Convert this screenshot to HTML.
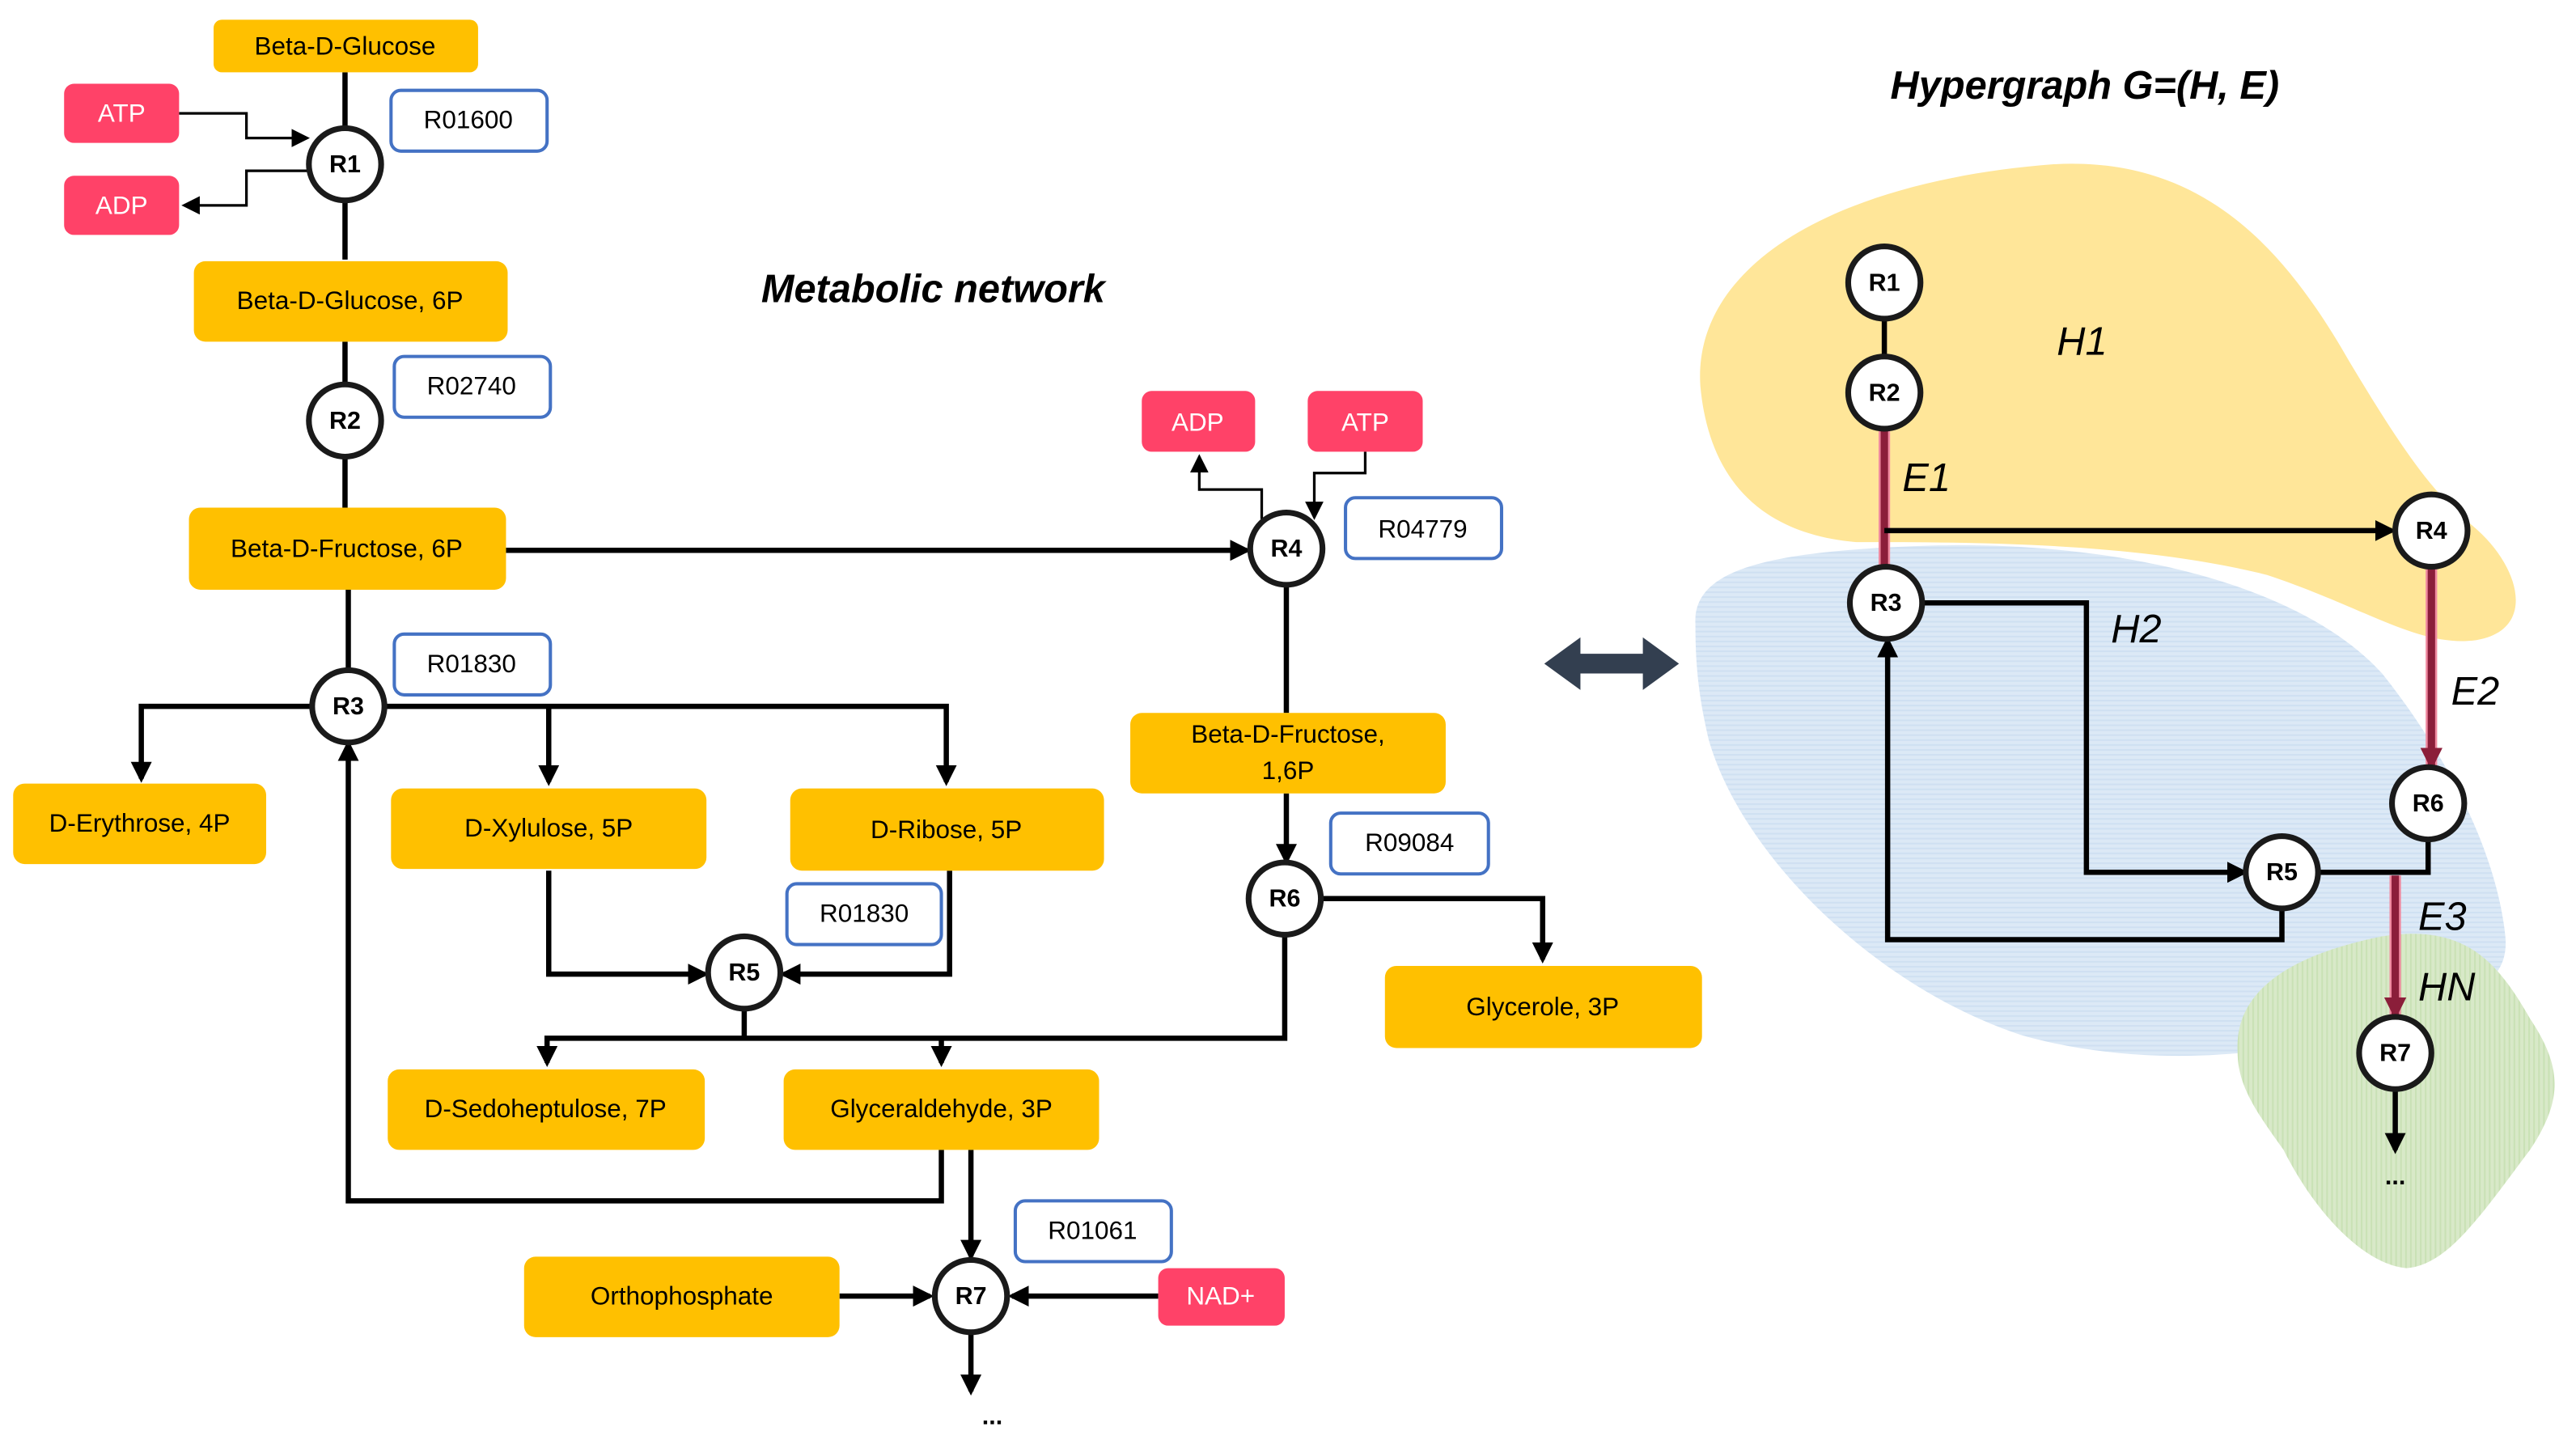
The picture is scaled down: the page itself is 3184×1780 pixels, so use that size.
<!DOCTYPE html>
<html><head><meta charset="utf-8"><style>
html,body{margin:0;padding:0;background:#fff;}
svg{display:block}
text{font-family:"Liberation Sans",sans-serif;}
.o{fill:#FFC000}
.p{fill:#FF4268}
.b{fill:#fff;stroke:#4472C4;stroke-width:2}
.t{font-size:15.5px;fill:#000;text-anchor:middle;dominant-baseline:central}
.w{font-size:15.5px;fill:#fff;text-anchor:middle;dominant-baseline:central}
.l{stroke:#000;stroke-width:3.2;fill:none}
.s{stroke:#000;stroke-width:1.6;fill:none}
.c{fill:#fff;stroke:#1a1a1a;stroke-width:3.5}
.n{font-size:15px;font-weight:bold;text-anchor:middle;dominant-baseline:central}
.i{font-size:24px;font-style:italic;}
.e{stroke:#8B1E3A;stroke-width:4.5;fill:none}
.ep{stroke:#F08AA0;stroke-width:7;fill:none}
</style></head><body>
<svg width="3184" height="1780" viewBox="0 0 1568 876.6" xmlns="http://www.w3.org/2000/svg">
<defs>
<marker id="a" markerWidth="4" markerHeight="4" refX="3.2" refY="2" orient="auto" markerUnits="strokeWidth"><path d="M0,0L4,2L0,4z" fill="#000"/></marker>
<marker id="as" markerWidth="7" markerHeight="7" refX="6" refY="3.5" orient="auto" markerUnits="strokeWidth"><path d="M0,0L7,3.5L0,7z" fill="#000"/></marker>
<marker id="ar" markerWidth="3" markerHeight="3" refX="2.4" refY="1.5" orient="auto" markerUnits="strokeWidth"><path d="M0,0L3,1.5L0,3z" fill="#8B1E3A"/></marker>
<pattern id="hb" width="4" height="3" patternUnits="userSpaceOnUse"><rect width="4" height="3" fill="#DCE9F6"/><rect width="4" height="1" fill="#CFE0F2"/></pattern>
<pattern id="hg" width="3" height="4" patternUnits="userSpaceOnUse"><rect width="3" height="4" fill="#D8E9C8"/><rect width="1" height="4" fill="#C9E1B5"/></pattern>
</defs>

<!-- Right blobs -->
<path d="M1035,235 C1030,160 1120,110 1250,100 C1340,95 1390,150 1430,220 C1460,270 1480,300 1505,320 C1535,345 1545,385 1505,390 C1470,393 1440,370 1380,350 C1300,330 1200,330 1130,330 C1070,325 1040,290 1035,235Z" fill="#FFE699"/>
<path d="M1032,380 C1030,345 1080,335 1180,332 C1290,330 1400,355 1450,410 C1490,460 1520,520 1525,570 C1528,600 1500,610 1450,625 C1380,645 1300,650 1230,630 C1140,600 1060,520 1040,450 C1033,420 1032,400 1032,380Z" fill="url(#hb)"/>
<path d="M1362,640 C1360,600 1400,580 1450,570 C1500,562 1520,585 1540,620 C1560,650 1560,670 1540,700 C1510,740 1490,770 1465,772 C1440,770 1410,740 1390,700 C1372,675 1362,660 1362,640Z" fill="url(#hg)"/>

<!-- Right edges -->
<line x1="1147" y1="194" x2="1147" y2="217" class="l"/>
<line x1="1147" y1="261" x2="1147" y2="345" class="ep"/>
<line x1="1147" y1="261" x2="1147" y2="345" class="e"/>
<line x1="1147" y1="323" x2="1456" y2="323" class="l" marker-end="url(#a)"/>
<polyline points="1170,367 1270,367 1270,531 1366,531" class="l" marker-end="url(#a)"/>
<polyline points="1389,553 1389,572 1149,572 1149,390" class="l" marker-end="url(#a)"/>
<line x1="1480" y1="345" x2="1480" y2="466" class="ep"/>
<line x1="1480" y1="345" x2="1480" y2="466" class="e" marker-end="url(#ar)"/>
<polyline points="1411,531 1478,531 1478,511" class="l"/>
<line x1="1458" y1="533" x2="1458" y2="618" class="ep"/>
<line x1="1458" y1="533" x2="1458" y2="618" class="e" marker-end="url(#ar)"/>
<line x1="1458" y1="663" x2="1458" y2="700" class="l" marker-end="url(#a)"/>
<text x="1458" y="716" class="n">...</text>

<g>
<circle cx="1147" cy="172" r="22" class="c"/><text x="1147" y="172" class="n">R1</text>
<circle cx="1147" cy="239" r="22" class="c"/><text x="1147" y="239" class="n">R2</text>
<circle cx="1148" cy="367" r="22" class="c"/><text x="1148" y="367" class="n">R3</text>
<circle cx="1480" cy="323" r="22" class="c"/><text x="1480" y="323" class="n">R4</text>
<circle cx="1389" cy="531" r="22" class="c"/><text x="1389" y="531" class="n">R5</text>
<circle cx="1478" cy="489" r="22" class="c"/><text x="1478" y="489" class="n">R6</text>
<circle cx="1458" cy="641" r="22" class="c"/><text x="1458" y="641" class="n">R7</text>
</g>
<text x="1252" y="216" class="i">H1</text>
<text x="1158" y="299" class="i">E1</text>
<text x="1285" y="391" class="i">H2</text>
<text x="1492" y="429" class="i">E2</text>
<text x="1472" y="566" class="i">E3</text>
<text x="1472" y="609" class="i">HN</text>
<text x="1269" y="60" style="font-size:24px;font-weight:bold;font-style:italic" text-anchor="middle">Hypergraph G=(H, E)</text>

<!-- Double arrow -->
<path d="M940,404 L962,388 L962,398 L1000,398 L1000,388 L1022,404 L1000,420 L1000,410 L962,410 L962,420Z" fill="#333F50"/>

<text x="568" y="184" text-anchor="middle" style="font-size:24px;font-weight:bold;font-style:italic">Metabolic network</text>

<!-- Left connectors -->
<line x1="210" y1="44" x2="210" y2="158" class="l"/>
<polyline points="109,69 150,69 150,84 187,84" class="s" marker-end="url(#as)"/>
<polyline points="189,104 150,104 150,125 112,125" class="s" marker-end="url(#as)"/>
<line x1="210" y1="208" x2="210" y2="309" class="l"/>
<line x1="308" y1="335" x2="759" y2="335" class="l" marker-end="url(#a)"/>
<line x1="212" y1="359" x2="212" y2="410" class="l"/>
<polyline points="192,430 86,430 86,474" class="l" marker-end="url(#a)"/>
<polyline points="232,430 576,430 576,476" class="l" marker-end="url(#a)"/>
<line x1="334" y1="430" x2="334" y2="476" class="l" marker-end="url(#a)"/>
<polyline points="334,530 334,593 429,593" class="l" marker-end="url(#a)"/>
<polyline points="578,530 578,593 477,593" class="l" marker-end="url(#a)"/>
<line x1="453" y1="613" x2="453" y2="632" class="l"/>
<polyline points="782,569 782,632 333,632 333,647" class="l" marker-end="url(#a)"/>
<line x1="573" y1="632" x2="573" y2="647" class="l" marker-end="url(#a)"/>
<polyline points="573,700 573,731 212,731 212,453" class="l" marker-end="url(#a)"/>
<line x1="591" y1="700" x2="591" y2="765" class="l" marker-end="url(#a)"/>
<line x1="511" y1="789" x2="566" y2="789" class="l" marker-end="url(#a)"/>
<line x1="705" y1="789" x2="616" y2="789" class="l" marker-end="url(#a)"/>
<line x1="591" y1="811" x2="591" y2="847" class="l" marker-end="url(#a)"/>
<text x="604" y="862" class="n">...</text>
<polyline points="768,316 768,298 730,298 730,278" class="s" marker-end="url(#as)"/>
<polyline points="831,275 831,288 800,288 800,315" class="s" marker-end="url(#as)"/>
<line x1="783" y1="356" x2="783" y2="434" class="l"/>
<line x1="783" y1="483" x2="783" y2="524" class="l" marker-end="url(#a)"/>
<polyline points="804,547 939,547 939,584" class="l" marker-end="url(#a)"/>

<!-- Left boxes -->
<rect x="130" y="12" width="161" height="32" rx="5" class="o"/><text x="210" y="28" class="t">Beta-D-Glucose</text>
<rect x="39" y="51" width="70" height="36" rx="6" class="p"/><text x="74" y="69" class="w">ATP</text>
<rect x="39" y="107" width="70" height="36" rx="6" class="p"/><text x="74" y="125" class="w">ADP</text>
<rect x="238" y="55" width="95" height="37" rx="6" class="b"/><text x="285" y="73" class="t">R01600</text>
<rect x="118" y="159" width="191" height="49" rx="7" class="o"/><text x="213" y="183" class="t">Beta-D-Glucose, 6P</text>
<rect x="240" y="217" width="95" height="37" rx="6" class="b"/><text x="287" y="235" class="t">R02740</text>
<rect x="115" y="309" width="193" height="50" rx="7" class="o"/><text x="211" y="334" class="t">Beta-D-Fructose, 6P</text>
<rect x="240" y="386" width="95" height="37" rx="6" class="b"/><text x="287" y="404" class="t">R01830</text>
<rect x="8" y="477" width="154" height="49" rx="7" class="o"/><text x="85" y="501" class="t">D-Erythrose, 4P</text>
<rect x="238" y="480" width="192" height="49" rx="7" class="o"/><text x="334" y="504" class="t">D-Xylulose, 5P</text>
<rect x="481" y="480" width="191" height="50" rx="7" class="o"/><text x="576" y="505" class="t">D-Ribose, 5P</text>
<rect x="479" y="538" width="94" height="37" rx="6" class="b"/><text x="526" y="556" class="t">R01830</text>
<rect x="236" y="651" width="193" height="49" rx="7" class="o"/><text x="332" y="675" class="t">D-Sedoheptulose, 7P</text>
<rect x="477" y="651" width="192" height="49" rx="7" class="o"/><text x="573" y="675" class="t">Glyceraldehyde, 3P</text>
<rect x="618" y="731" width="95" height="37" rx="6" class="b"/><text x="665" y="749" class="t">R01061</text>
<rect x="319" y="765" width="192" height="49" rx="7" class="o"/><text x="415" y="789" class="t">Orthophosphate</text>
<rect x="705" y="772" width="77" height="35" rx="6" class="p"/><text x="743" y="789" class="w">NAD+</text>
<rect x="695" y="238" width="69" height="37" rx="6" class="p"/><text x="729" y="257" class="w">ADP</text>
<rect x="796" y="238" width="70" height="37" rx="6" class="p"/><text x="831" y="257" class="w">ATP</text>
<rect x="819" y="303" width="95" height="37" rx="6" class="b"/><text x="866" y="322" class="t">R04779</text>
<rect x="688" y="434" width="192" height="49" rx="7" class="o"/><text x="784" y="447" class="t">Beta-D-Fructose,</text><text x="784" y="469" class="t">1,6P</text>
<rect x="810" y="495" width="96" height="37" rx="6" class="b"/><text x="858" y="513" class="t">R09084</text>
<rect x="843" y="588" width="193" height="50" rx="7" class="o"/><text x="939" y="613" class="t">Glycerole, 3P</text>

<circle cx="210" cy="100" r="22" class="c"/><text x="210" y="100" class="n">R1</text>
<circle cx="210" cy="256" r="22" class="c"/><text x="210" y="256" class="n">R2</text>
<circle cx="212" cy="430" r="22" class="c"/><text x="212" y="430" class="n">R3</text>
<circle cx="783" cy="334" r="22" class="c"/><text x="783" y="334" class="n">R4</text>
<circle cx="453" cy="592" r="22" class="c"/><text x="453" y="592" class="n">R5</text>
<circle cx="782" cy="547" r="22" class="c"/><text x="782" y="547" class="n">R6</text>
<circle cx="591" cy="789" r="22" class="c"/><text x="591" y="789" class="n">R7</text>
</svg>
</body></html>
